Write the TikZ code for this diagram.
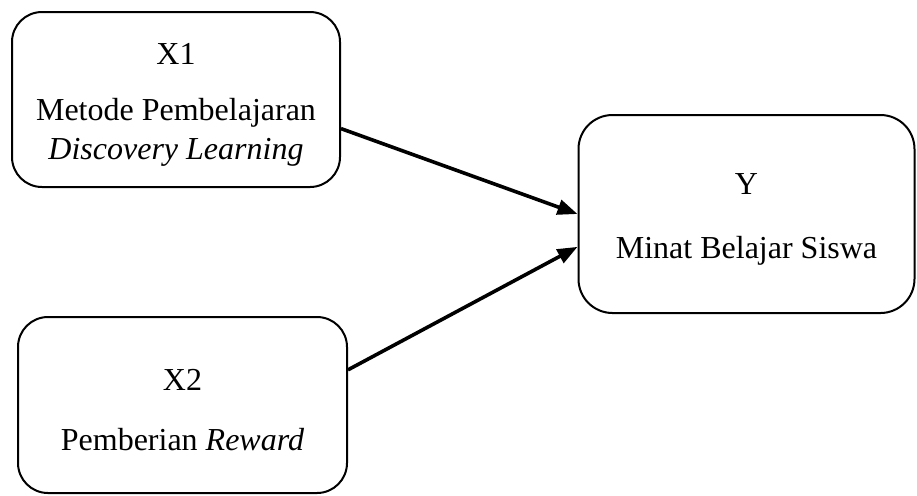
\documentclass[tikz,border=0pt]{standalone}
\usepackage{fontspec}
\setmainfont{Liberation Serif}
\usetikzlibrary{arrows.meta}
\tikzset{>/.tip={Triangle[length=10pt,width=7.5pt]},
  varbox/.style={draw, line width=1pt, rounded corners=15pt, align=center,
    font=\fontsize{16}{19.5}\selectfont},
  link/.style={->, line width=1.8pt}}
\newcommand{\toppad}{\rule{0pt}{16pt}}

\begin{document}
\begin{tikzpicture}[x=0.5pt,y=-0.5pt]
\useasboundingbox (0,0) rectangle (917,495);
\node[varbox, minimum width=164pt, minimum height=87.5pt] (x1) at (176,99.5)
  {\toppad X1\\[8.5pt]Metode Pembelajaran\\\textit{Discovery Learning}};
\node[varbox, minimum width=164.5pt, minimum height=88pt] (x2) at (182.5,405)
  {\toppad X2\\[10.5pt]Pemberian \textit{Reward}};
\node[varbox, minimum width=168pt, minimum height=99pt, rounded corners=17pt] (y) at (746.5,214)
  {\toppad Y\\[12.5pt]Minat Belajar Siswa};

\draw[link] (x1.-10) to (y.west);
\draw[link] (x2.12) to (y.191);
\end{tikzpicture}
\end{document}
